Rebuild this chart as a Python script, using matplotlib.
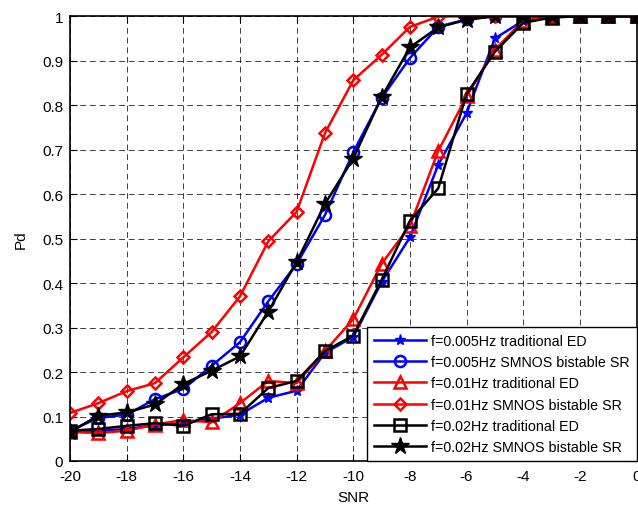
import matplotlib.pyplot as plt

plt.rcParams['font.family'] = ['Liberation Sans', 'DejaVu Sans']
plt.rcParams['axes.unicode_minus'] = False

snr = [-20, -19, -18, -17, -16, -15, -14, -13, -12, -11, -10, -9, -8, -7, -6, -5, -4, -3, -2, -1, 0]

# f=0.005Hz
ed_005 = [0.065, 0.068, 0.072, 0.080, 0.085, 0.095, 0.104, 0.142, 0.158, 0.243, 0.279, 0.402, 0.503, 0.666, 0.782, 0.950, 0.990, 0.998, 1.0, 1.0, 1.0]
sr_005 = [0.068, 0.097, 0.104, 0.139, 0.162, 0.214, 0.267, 0.359, 0.443, 0.553, 0.694, 0.816, 0.906, 0.976, 0.993, 1.0, 1.0, 1.0, 1.0, 1.0, 1.0]
# f=0.01Hz
ed_01 = [0.065, 0.063, 0.068, 0.082, 0.092, 0.087, 0.130, 0.180, 0.175, 0.247, 0.319, 0.443, 0.529, 0.697, 0.820, 0.925, 0.990, 0.998, 1.0, 1.0, 1.0]
sr_01 = [0.108, 0.130, 0.157, 0.175, 0.233, 0.290, 0.370, 0.494, 0.560, 0.737, 0.856, 0.913, 0.976, 0.999, 1.0, 1.0, 1.0, 1.0, 1.0, 1.0, 1.0]
# f=0.02Hz
ed_02 = [0.068, 0.072, 0.079, 0.085, 0.079, 0.105, 0.106, 0.164, 0.180, 0.247, 0.282, 0.407, 0.540, 0.613, 0.825, 0.920, 0.985, 0.997, 1.0, 1.0, 1.0]
sr_02 = [0.065, 0.102, 0.109, 0.127, 0.173, 0.203, 0.235, 0.336, 0.447, 0.578, 0.680, 0.818, 0.930, 0.975, 0.992, 1.0, 1.0, 1.0, 1.0, 1.0, 1.0]

fig = plt.figure(figsize=(6.38, 5.06), dpi=100)
ax = fig.add_axes([0.1097, 0.087, 0.888, 0.879])

ax.plot(snr, ed_005, color='b', marker='*', markersize=8, lw=1.8, label='f=0.005Hz traditional ED')
ax.plot(snr, sr_005, color='b', marker='o', markersize=8, mfc='none', mew=1.8, lw=1.8, label='f=0.005Hz SMNOS bistable SR')
ax.plot(snr, ed_01, color='r', marker='^', markersize=9, mfc='none', mew=1.8, lw=1.8, label='f=0.01Hz traditional ED')
ax.plot(snr, sr_01, color='r', marker='D', markersize=6.5, mfc='none', mew=1.8, lw=1.8, label='f=0.01Hz SMNOS bistable SR')
ax.plot(snr, ed_02, color='k', marker='s', markersize=9, mfc='none', mew=1.8, lw=1.8, label='f=0.02Hz traditional ED')
ax.plot(snr, sr_02, color='k', marker='*', markersize=13, lw=1.8, label='f=0.02Hz SMNOS bistable SR')

ax.set_xlim(-20, 0)
ax.set_ylim(0, 1)
ax.set_xticks(range(-20, 1, 2))
ax.set_yticks([i / 10 for i in range(11)])
ax.set_yticklabels(['0', '0.1', '0.2', '0.3', '0.4', '0.5', '0.6', '0.7', '0.8', '0.9', '1'])
ax.tick_params(direction='in', labelsize=11, top=True, right=True, length=5)
ax.tick_params(axis='x', pad=6)
ax.tick_params(axis='y', pad=5)
ax.grid(True, color='k', linestyle=(0, (6, 4)), linewidth=0.7, alpha=0.75)
for s in ax.spines.values():
    s.set_linewidth(1.2)

ax.set_xlabel('SNR', fontsize=11, labelpad=5)
ax.set_ylabel('Pd', fontsize=11, labelpad=10)

leg = ax.legend(loc='lower right', fontsize=10.3, handlelength=3.6, fancybox=False,
                edgecolor='k', framealpha=1, borderaxespad=0, labelspacing=0.5,
                handletextpad=0.35, borderpad=0.5)
leg.get_frame().set_linewidth(1.0)

fig.savefig('out.png', dpi=100)
